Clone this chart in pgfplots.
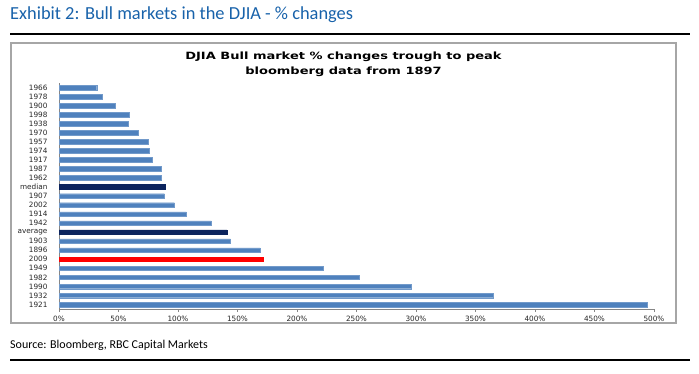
\documentclass[border=0pt]{standalone}
\usepackage{pgfplots}
\pgfplotsset{compat=1.18}
\usepackage{fontspec}
\setmainfont{Carlito}
\newfontfamily\dejavu{DejaVu Sans}
\newfontfamily\dejavuwide[FakeStretch=1.3]{DejaVu Sans}
\definecolor{ttlblue}{RGB}{24,98,170}
\definecolor{barblue}{RGB}{79,129,189}
\definecolor{navy}{RGB}{12,36,94}
\definecolor{axgray}{RGB}{134,134,134}
\begin{document}
\begin{tikzpicture}[x=1pt,y=1pt]
\path[use as bounding box] (0,0) rectangle (699,-374);
\node[anchor=west,inner sep=0pt,text=ttlblue,font=\fontsize{18.4}{20}\selectfont] at (10,-15) {Exhibit 2: Bull markets in the DJIA - \% changes};
\draw[black,line width=1.2pt] (10,-34) -- (690,-34);
\draw[gray!70,line width=1.2pt] (11,-43) rectangle (676,-323);
\node[align=center,inner sep=0pt,font=\dejavuwide\bfseries\fontsize{10}{15}\selectfont] at (343.5,-64.5) {DJIA Bull market \% changes trough to peak\\bloomberg data from 1897};
\node[anchor=west,inner sep=0pt,font=\fontsize{12}{14}\selectfont] at (10,-345) {Source: Bloomberg, RBC Capital Markets};
\draw[black,line width=1.2pt] (10,-360) -- (690,-360);
\begin{axis}[
  at={(59pt,-309pt)}, anchor=south west,
  scale only axis, width=595pt, height=226pt,
  xmin=0, xmax=500, ymin=-0.5, ymax=24.5,
  axis x line*=bottom, axis y line*=left,
  axis line style={axgray,line width=0.8pt},
  xbar, bar width=4.6pt, bar shift=0pt,
  xtick={0,50,...,500},
  xticklabel={\pgfmathprintnumber{\tick}\%},
  ytick={0,...,24},
  yticklabels={1921,1932,1990,1982,1949,2009,1896,1903,average,1942,1914,2002,1907,median,1962,1987,1917,1974,1957,1970,1938,1998,1900,1978,1966},
  extra y ticks={-0.5,0.5,...,24.5},
  extra y tick labels={},
  extra y tick style={major tick length=3pt, tick style={axgray,line width=0.6pt}},
  y tick style={draw=none},
  x tick style={axgray,line width=0.6pt},
  tick align=outside, major tick length=3pt,
  /pgf/number format/assume math mode=true,
  ticklabel style={font=\dejavu\fontsize{7.3}{8}\selectfont, text=black!85},
  yticklabel style={xshift=-5pt},
  xticklabel style={yshift=-1pt},
  clip=false,
]
\addplot[fill=barblue, draw=barblue!80] coordinates {
(494,0) (365,1) (296,2) (252,3) (222,4) (169,6) (144,7) (128,9) (107,10) (97,11) (88.5,12)
(86,14) (86.3,15) (78.7,16) (76,17) (75,18) (66.7,19) (58.5,20) (59,21) (47,22) (36.7,23) (31.7,24)};
\addplot[fill=navy, draw=navy] coordinates {(141,8) (89.5,13)};
\addplot[fill=red, draw=red] coordinates {(172,5)};
\end{axis}
\end{tikzpicture}
\end{document}
